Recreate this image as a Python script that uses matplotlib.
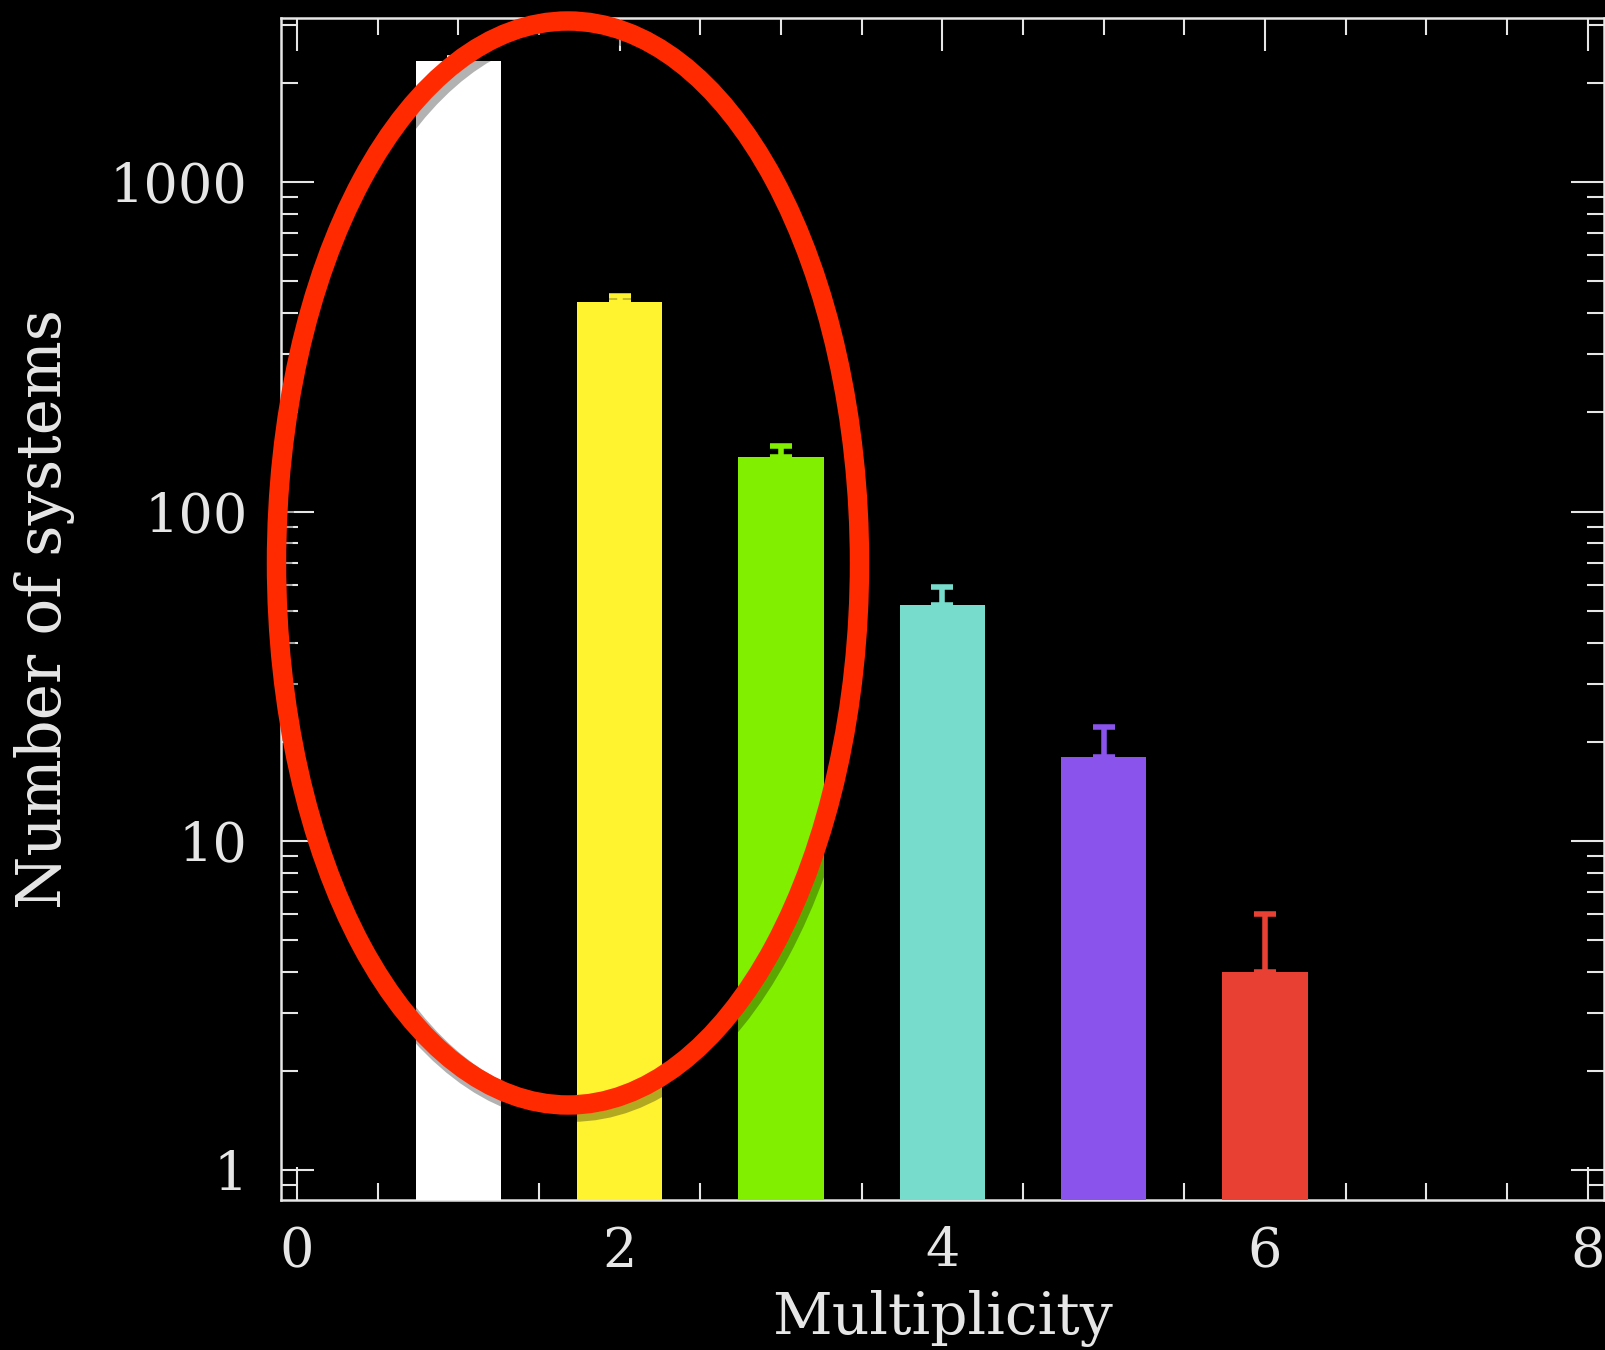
import numpy as np
import matplotlib
matplotlib.use("Agg")
import matplotlib.pyplot as plt
from matplotlib.patches import Ellipse
from matplotlib.ticker import LogLocator, MultipleLocator, FixedLocator, FuncFormatter, NullFormatter

# Number of systems per multiplicity class
multiplicity = [1, 2, 3, 4, 5, 6]
n_systems = [2330, 431, 146, 52, 18, 4]
n_err = [48, 21, 12, 7.2, 4.2, 2.0]
bar_colors = ['#ffffff', '#fff22e', '#80f000', '#78dccc', '#8a53ec', '#e84033']

x_ticks = [0, 2, 4, 6, 8]
y_ticks = [1, 10, 100, 1000]

fg = '#e6e6e6'
plt.rcParams['font.family'] = ['DejaVu Serif']

fig = plt.figure(figsize=(16.05, 13.5), dpi=100, facecolor='black')
ax = fig.add_axes([0.175, 0.1111, 0.8242, 0.8753], facecolor='black')

ax.bar(multiplicity, n_systems, width=0.53, color=bar_colors, zorder=3)
for x, y, e, c in zip(multiplicity, n_systems, n_err, bar_colors):
    ax.errorbar([x], [y], yerr=[[0], [e]], fmt='none', ecolor=c,
                elinewidth=4, capsize=8, capthick=4, zorder=2)

ax.set_yscale('log')
ax.set_xlim(-0.1, 8.1)
ax.set_ylim(10 ** -0.09, 10 ** 3.497)

ax.xaxis.set_major_locator(FixedLocator(x_ticks))
ax.xaxis.set_minor_locator(MultipleLocator(0.5))
ax.yaxis.set_major_locator(FixedLocator(y_ticks))
ax.yaxis.set_minor_locator(LogLocator(base=10, subs=np.arange(2, 10)))
ax.yaxis.set_major_formatter(FuncFormatter(lambda v, p: f'{int(v)}'))
ax.yaxis.set_minor_formatter(NullFormatter())

for s in ax.spines.values():
    s.set_color(fg)
    s.set_linewidth(1.8)

ax.tick_params(which='both', direction='in', top=True, right=True,
               color=fg, width=1.5, labelcolor=fg, labelsize=39)
ax.tick_params(which='major', length=24)
ax.tick_params(which='minor', length=12)
ax.tick_params(axis='x', which='major', pad=19)
ax.tick_params(axis='y', which='major', pad=24)

ax.set_xlabel('Multiplicity', color=fg, fontsize=42)
ax.set_ylabel('Number of systems', color=fg, fontsize=44)
ax.xaxis.set_label_coords(0.5, -0.076)
ax.yaxis.set_label_coords(-0.156, 0.5)

# hand-drawn highlight around the first three classes, with a soft shadow
shadow = Ellipse((5.72, 7.82), width=5.83, height=10.84,
                 transform=fig.dpi_scale_trans, fill=False,
                 edgecolor='black', alpha=0.3, linewidth=17, zorder=9)
fig.add_artist(shadow)
ring = Ellipse((5.68, 7.87), width=5.83, height=10.84,
               transform=fig.dpi_scale_trans, fill=False,
               edgecolor='#ff2a00', linewidth=14, zorder=10)
fig.add_artist(ring)

fig.savefig('out.png', dpi=100, facecolor='black')
